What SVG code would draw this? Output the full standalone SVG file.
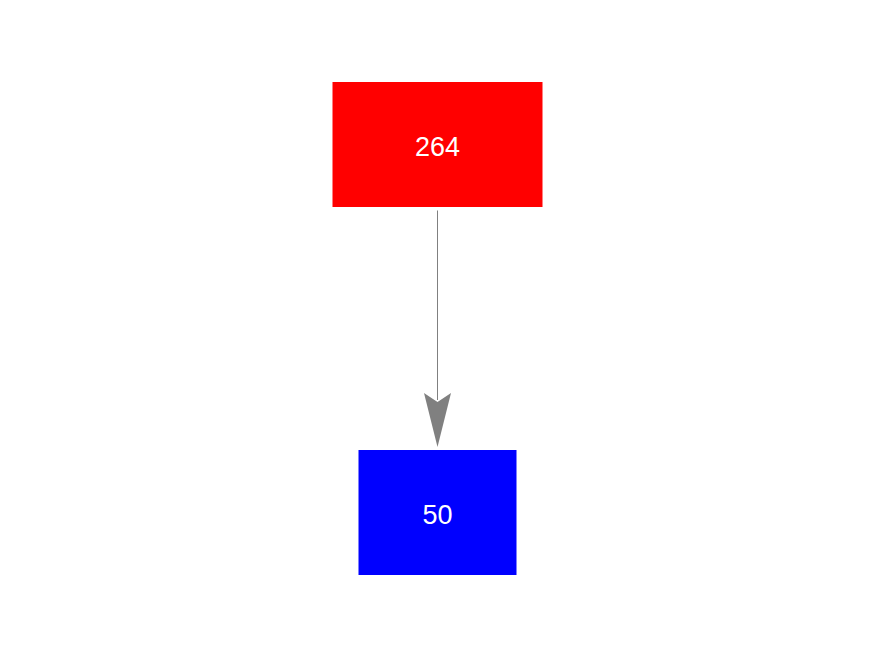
<svg xmlns="http://www.w3.org/2000/svg" width="875" height="656" viewBox="0 0 875 656">
<style>
.lbl{font-family:"Liberation Sans",Arial,sans-serif;font-size:27px;fill:#ffffff;text-anchor:middle}
.edge{stroke:#808080;stroke-width:1;fill:none}
</style>
<defs>
<marker id="arr" markerUnits="userSpaceOnUse" markerWidth="30" markerHeight="60" refX="13.5" refY="54" orient="auto-start-reverse" viewBox="0 0 27 54">
<polygon points="0,0 13.5,9 27,0 13.5,54" fill="#808080"/>
</marker>
</defs>
<rect width="875" height="656" fill="#ffffff"/>
<g id="connectors">
<path class="edge" d="M437.5,210.5 L437.5,400"/>
<polygon points="424,393 437.5,402 451,393 437.5,447" fill="#808080"/>
</g>
<g id="node-264">
<rect x="332.5" y="82" width="210" height="125" fill="#ff0000"/>
<text class="lbl" x="437.5" y="156">264</text>
</g>
<g id="node-50">
<rect x="358.5" y="450" width="158" height="125" fill="#0000ff"/>
<text class="lbl" x="437.5" y="524">50</text>
</g>
</svg>
